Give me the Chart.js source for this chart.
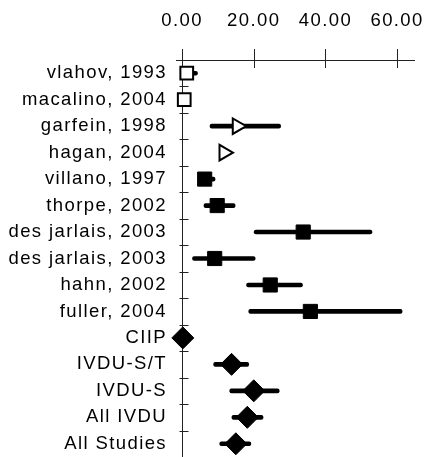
<!DOCTYPE html>
<html>
<head>
<meta charset="utf-8">
<script src="https://cdn.jsdelivr.net/npm/chart.js@4/dist/chart.umd.min.js"></script>
<style>
html,body{margin:0;padding:0;background:#fff;}
canvas{display:block;}
</style>
</head>
<body>
<canvas id="c" width="428" height="457"></canvas>
<script>
// ---- data ----
const studies = ['vlahov, 1993','macalino, 2004','garfein, 1998','hagan, 2004','villano, 1997','thorpe, 2002','des jarlais, 2003','des jarlais, 2003','hahn, 2002','fuller, 2004','CIIP','IVDU-S/T','IVDU-S','All IVDU','All Studies'];
const estimate = [1.3, 0.6, 15.4, 11.7, 6.3, 9.8, 33.8, 9.1, 24.6, 35.8, 0.2, 13.8, 20.0, 18.2, 15.0];
const lower    = [0.3, 0.1, 7.8, 10.5, 4.5, 6.1, 20.1, 2.9, 18.0, 18.6, 0.0, 8.8, 13.3, 13.9, 10.5];
const upper    = [4.3, 1.1, 27.5, 13.0, 9.2, 14.8, 53.0, 20.4, 33.6, 61.4, 0.4, 18.6, 27.1, 22.6, 19.2];
const markerKind = ['open-square','open-square','open-triangle','open-triangle','square','square','square','square','square','square','diamond','diamond','diamond','diamond','diamond'];
const xTicks = [0, 20, 40, 60];

// ---- styling per marker kind ----
const styleMap = {
  'open-square':   {style:'rect', radius:9, fill:'#ffffff', rot:0},
  'open-triangle': {style:'triangle', radius:9, fill:'#ffffff', rot:90},
  'square':        {style:'rect', radius:10, fill:'#000000', rot:0},
  'diamond':       {style:'rectRot', radius:11, fill:'#000000', rot:0}
};

const FONT = "'Liberation Sans', Arial, sans-serif";
const LS = '1.4px';

const spacingPlugin = {
  id: 'spacing',
  afterInit(chart){ chart.ctx.letterSpacing = LS; },
  beforeUpdate(chart){ chart.ctx.letterSpacing = LS; },
  beforeDraw(chart){ chart.ctx.letterSpacing = LS; }
};

const axesPlugin = {
  id: 'axesLines',
  beforeDatasetsDraw(chart){
    const {ctx, chartArea:a, scales:{x, y}} = chart;
    ctx.save();
    ctx.strokeStyle = '#222';
    ctx.lineWidth = 1;
    const x0 = Math.round(x.getPixelForValue(0)) + 0.5;
    const topY = Math.round(a.top) + 0.5;
    ctx.beginPath();
    ctx.moveTo(a.left, topY); ctx.lineTo(a.right, topY);
    ctx.moveTo(x0, a.top - 8); ctx.lineTo(x0, a.bottom);
    xTicks.forEach(v => {
      const px = Math.round(x.getPixelForValue(v)) + 0.5;
      ctx.moveTo(px, a.top - 11); ctx.lineTo(px, a.top + 8);
    });
    const half = (y.getPixelForValue(1) - y.getPixelForValue(0)) / 2;
    for (let i = 0; i < studies.length - 1; i++) {
      const py = Math.round(y.getPixelForValue(i) + half) + 0.5;
      ctx.moveTo(x0 - 3, py); ctx.lineTo(x0 + 6, py);
    }
    ctx.stroke();
    ctx.restore();
  }
};

function zeroPad(s){ s.paddingLeft = 0; s.paddingRight = 0; s.paddingTop = 0; s.paddingBottom = 0; }

new Chart(document.getElementById('c'), {
  type: 'bar',
  data: {
    labels: studies,
    datasets: [
      {
        type: 'scatter',
        data: estimate.map((v, i) => ({x: v, y: i})),
        pointStyle: markerKind.map(k => styleMap[k].style),
        pointRadius: markerKind.map(k => styleMap[k].radius),
        pointRotation: markerKind.map(k => styleMap[k].rot),
        backgroundColor: markerKind.map(k => styleMap[k].fill),
        borderColor: '#000',
        borderWidth: markerKind.map(k => styleMap[k].fill === '#ffffff' ? 2 : 1),
        clip: false,
        order: 0
      },
      {
        type: 'bar',
        data: lower.map((v, i) => [v, upper[i]]),
        backgroundColor: '#000',
        barThickness: 4,
        borderRadius: 2,
        borderSkipped: false,
        clip: false,
        order: 1
      }
    ]
  },
  options: {
    indexAxis: 'y',
    responsive: false,
    animation: false,
    layout: {autoPadding: false, padding: {left: 0, right: 13, top: 0, bottom: 0}},
    plugins: {legend: {display: false}, tooltip: {enabled: false}},
    scales: {
      x: {
        type: 'linear',
        position: 'top',
        min: -1.7,
        max: 65,
        afterBuildTicks(s){ s.ticks = xTicks.map(v => ({value: v})); },
        ticks: {
          includeBounds: false,
          callback: v => Number(v).toFixed(2),
          color: '#000',
          font: {family: FONT, size: 18.5},
          padding: 28,
          maxRotation: 0
        },
        grid: {display: false, drawTicks: false},
        border: {display: false},
        afterFit(s){ s.height = 60; zeroPad(s); }
      },
      y: {
        type: 'category',
        offset: true,
        ticks: {
          color: '#000',
          font: {family: FONT, size: 18.5},
          padding: 9,
          autoSkip: false
        },
        grid: {display: false, drawTicks: false},
        border: {display: false},
        afterFit(s){ s.width = 176; zeroPad(s); }
      }
    }
  },
  plugins: [spacingPlugin, axesPlugin]
});
</script>
</body>
</html>
